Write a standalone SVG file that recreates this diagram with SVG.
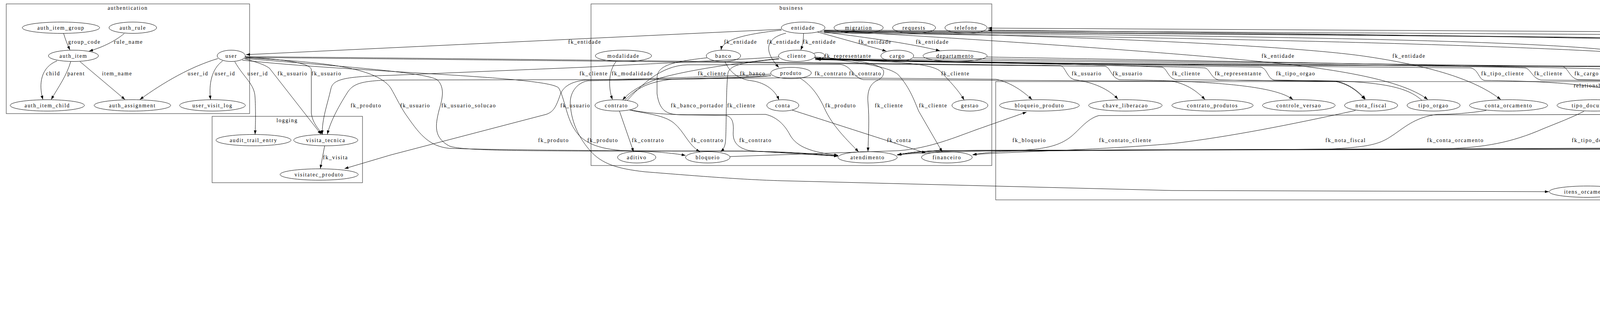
<svg xmlns="http://www.w3.org/2000/svg" width="5826" height="853" viewBox="0 0 5826 853">
<defs>
<marker id="a" viewBox="0 0 10 7" refX="10" refY="3.5" markerWidth="10" markerHeight="7" markerUnits="userSpaceOnUse" orient="auto"><path d="M0,0 L10,3.5 L0,7z" fill="#000"/></marker>
<style>
text{font-family:"Liberation Serif","Times New Roman",serif;font-size:14px;letter-spacing:1.7px;text-anchor:middle;fill:#000}
.cl rect{fill:none;stroke:#444;stroke-width:1.2}
.nd ellipse{fill:none;stroke:#000;stroke-width:1}
#edges path{fill:none;stroke:#000;stroke-width:1;marker-end:url(#a)}
</style>
</defs>
<rect width="5826" height="853" fill="#fff"/>
<g id="clusters" class="cl">
<g id="c_authentication"><rect x="16" y="10" width="623" height="281"/><text x="327" y="25">authentication</text></g>
<g id="c_logging"><rect x="543" y="298" width="385" height="170"/><text x="735" y="313">logging</text></g>
<g id="c_business"><rect x="1513" y="10" width="1026" height="414"/><text x="2026" y="25">business</text></g>
<g id="c_relationship"><rect x="2549" y="209" width="3047" height="303"/><text x="4072" y="224">relationship</text></g>
</g>
<g id="edges">
<g><path d="M163,86 C167,100 172,113 179,128"/><text x="216" y="112">group_code</text></g>
<g><path d="M318,86 C296,104 266,120 228,131"/><text x="329" y="112">rule_name</text></g>
<g><path d="M146,156 C105,172 98,215 110,255"/><text x="136" y="193">child</text></g>
<g><path d="M181,158 C170,195 150,222 131,255"/><text x="195" y="193">parent</text></g>
<g><path d="M205,158 L320,255"/><text x="300" y="193">item_name</text></g>
<g><path d="M558,150 C490,170 420,210 358,255"/><text x="507" y="193">user_id</text></g>
<g><path d="M570,156 C542,176 534,215 539,255"/><text x="576" y="193">user_id</text></g>
<g><path d="M601,158 C625,200 652,215 653,250 C655,290 654,320 653,344"/><text x="660" y="193">user_id</text></g>
<g><path d="M625,150 C660,160 680,167 690,175 L822,344"/><text x="749" y="193">fk_usuario</text></g>
<g><path d="M628,146 C720,152 793,160 797,178 L797,290 C800,315 815,330 826,344"/><text x="836" y="193">fk_usuario</text></g>
<g><path d="M831,374 L820,432"/><text x="859" y="408">fk_visita</text></g>
<g><path d="M1973,190 C1800,198 1600,203 1500,205 C1465,208 1445,220 1436,238 C1425,268 1420,286 1398,293 L1000,397 L882,432"/><text x="1417" y="364">fk_produto</text></g>
<g><path d="M1994,146 C1800,158 1600,166 1500,172 L1000,193 C880,196 852,203 847,228 C838,268 824,305 825,344"/><text x="1520" y="193">fk_cliente</text></g>
<g><path d="M1973,194 C1900,202 1700,204 1500,204 L1000,205 C925,207 905,214 890,236 C862,280 845,315 838,344"/><text x="937" y="275">fk_produto</text></g>
<g><path d="M2000,75 L630,140"/><text x="1497" y="112">fk_entidade</text></g>
<g><path d="M2001,77 C1930,85 1850,97 1846,128"/><text x="1896" y="112">fk_entidade</text></g>
<g><path d="M2012,85 C1962,97 1952,128 1994,173"/><text x="2006" y="112">fk_entidade</text></g>
<g><path d="M2057,86 C2057,100 2055,115 2050,128"/><text x="2098" y="112">fk_entidade</text></g>
<g><path d="M2093,82 L2269,131"/><text x="2240" y="112">fk_entidade</text></g>
<g><path d="M2100,81 C2250,100 2330,112 2406,130"/><text x="2387" y="112">fk_entidade</text></g>
<g><path d="M2108,78 C2500,100 3000,134 3250,160 C3500,185 3610,220 3655,255"/><text x="3272" y="148">fk_entidade</text></g>
<g><path d="M2109,80 C2700,90 3300,115 3500,145 C3700,175 3790,215 3842,255"/><text x="3607" y="148">fk_entidade</text></g>
<g><path d="M2110,82 C3000,90 3900,100 4133,130 C4220,145 4265,170 4278,200 C4283,220 4282,240 4280,255"/><text x="4264" y="148">fk_entidade</text></g>
<g><path d="M2110,84 C3200,98 4200,120 4400,158 C4480,172 4560,205 4652,255"/><text x="4480" y="148">fk_entidade</text></g>
<g><path d="M2110,80 C3000,88 4500,95 4760,110 C4900,120 4955,140 4958,172 C4960,205 4935,235 4908,255"/><text x="5002" y="148">fk_entidade</text></g>
<g><path d="M2110,79 C3500,88 4800,100 5000,117 C5100,130 5170,160 5230,195 C5270,220 5300,240 5317,255"/><text x="5195" y="148">fk_entidade</text></g>
<g><path d="M2110,77 C3500,84 4900,92 5000,97 C5150,107 5280,130 5350,165 C5420,200 5460,230 5487,255"/><text x="5368" y="148">fk_entidade</text></g>
<g><path d="M5507,256 C5508,190 5495,130 5450,113 C5380,95 5200,88 5000,86 L2529,72"/><text x="5545" y="148">fk_tipo_telefone</text></g>
<g><path d="M2083,137 C2098,131 2112,137 2111,143 C2110,149 2100,152 2089,150"/><text x="2171" y="148">fk_representante</text></g>
<g><path d="M1577,158 C1560,178 1555,220 1568,255"/><text x="1619" y="193">fk_modalidade</text></g>
<g><path d="M1994,150 C1880,162 1760,180 1690,200 C1645,215 1612,235 1594,256"/><text x="1823" y="193">fk_cliente</text></g>
<g><path d="M1600,257 C1630,225 1660,210 1720,203 C1900,200 2050,199 2100,199 L2550,203 C2590,212 2620,235 2642,255"/><text x="2127" y="193">fk_contrato</text></g>
<g><path d="M1605,258 C1640,220 1690,168 1760,166 L2150,165 C2180,167 2185,200 2210,204 L3000,208 C3040,215 3065,235 3085,255"/><text x="2215" y="193">fk_contrato</text></g>
<g><path d="M1856,158 C1868,185 1890,203 1925,207 C1960,212 1985,232 1994,256"/><text x="1927" y="193">fk_banco</text></g>
<g><path d="M1810,148 C1720,158 1682,168 1682,200 L1682,240 C1688,282 1705,293 1740,294 L1860,296 C1878,302 1878,320 1877,340 C1876,365 1890,380 1920,386 C2000,392 2080,396 2145,400"/><text x="1785" y="275">fk_banco_portador</text></g>
<g><path d="M1995,151 C1900,160 1872,166 1864,185 C1858,220 1860,340 1857,365 C1855,378 1850,384 1845,389"/><text x="1898" y="275">fk_cliente</text></g>
<g><path d="M1586,285 L1622,389"/><text x="1659" y="364">fk_contrato</text></g>
<g><path d="M1612,282 C1660,292 1700,295 1725,315 C1752,337 1762,372 1792,389"/><text x="1811" y="364">fk_contrato</text></g>
<g><path d="M1616,282 C1660,290 1700,293 1760,294 L1960,293 C1990,300 2010,322 2022,345 C2040,378 2080,390 2146,398"/><text x="1934" y="364">fk_contrato</text></g>
<g><path d="M2085,148 C2200,158 2280,172 2300,192 C2330,225 2342,262 2352,285 L2412,389"/><text x="2389" y="275">fk_cliente</text></g>
<g><path d="M2086,146 C2180,152 2258,162 2262,182 C2264,198 2250,204 2242,208 C2225,218 2220,238 2222,262 C2226,305 2223,350 2222,388"/><text x="2276" y="275">fk_cliente</text></g>
<g><path d="M2087,152 C2300,156 2385,163 2408,183 C2428,205 2455,232 2468,256"/><text x="2446" y="193">fk_cliente</text></g>
<g><path d="M2048,200 C2080,220 2098,250 2110,276 C2130,322 2170,360 2198,389"/><text x="2152" y="275">fk_produto</text></g>
<g><path d="M2028,282 L2370,392"/><text x="2302" y="364">fk_conta</text></g>
<g><path d="M628,148 C800,158 960,168 1000,225 C1015,250 1025,275 1045,302 C1075,345 1100,375 1150,380 C1300,385 1700,387 1900,387 C2000,388 2080,393 2145,399"/><text x="1063" y="275">fk_usuario</text></g>
<g><path d="M627,150 C850,168 1095,185 1120,205 C1140,225 1132,255 1124,282 C1114,322 1110,352 1150,374 C1180,385 1300,386 1500,387 L1900,387 C2000,389 2080,394 2145,400"/><text x="1200" y="275">fk_usuario_solucao</text></g>
<g><path d="M620,154 C900,185 1400,195 1430,225 C1445,250 1450,300 1470,330 C1490,365 1530,382 1600,386 C1680,388 1720,392 1755,398"/><text x="1473" y="275">fk_usuario</text></g>
<g><path d="M1869,401 L2300,386 C2380,380 2450,350 2500,332 L2628,287"/><text x="2635" y="364">fk_bloqueio</text></g>
<g><path d="M4410,284 C4380,291 4340,293 4300,293 L2813,296 C2780,305 2760,338 2735,355 C2710,372 2680,382 2600,386 C2500,387 2400,389 2297,396"/><text x="2881" y="364">fk_contato_cliente</text></g>
<g><path d="M3470,283 C3300,320 3150,350 3000,368 C2800,385 2600,388 2490,396"/><text x="3445" y="364">fk_nota_fiscal</text></g>
<g><path d="M3805,283 C3760,290 3720,293 3680,293 C3620,300 3592,330 3560,350 C3530,370 3500,377 3400,382 L2600,387 C2550,388 2510,392 2490,397"/><text x="3726" y="364">fk_conta_orcamento</text></g>
<g><path d="M4055,285 C4030,298 4000,310 3950,330 C3870,365 3800,378 3700,381 L2400,386 C2350,388 2320,392 2298,397"/><text x="4093" y="364">fk_tipo_documento</text></g>
<g><path d="M4618,284 C4580,291 4540,293 4500,293 C4420,300 4360,320 4330,333 C4250,370 4200,378 4100,381 L2400,386 C2350,388 2320,392 2298,397"/><text x="4466" y="364">fk_tipo_atendimento</text></g>
<g><path d="M4840,284 C4780,291 4700,293 4670,293 C4620,300 4612,320 4600,335 C4580,368 4550,376 4500,378 L2400,386 C2350,388 2320,392 2298,397"/><text x="4717" y="364">fk_tipo_ocorrencia</text></g>
<g><path d="M2296,397 C2330,390 2400,386 2500,385 L4500,382 C4700,378 4800,374 4850,365 C4950,345 5040,320 5090,286"/><text x="5109" y="364">fk_atendimento</text></g>
<g><path d="M5285,282 C5240,300 5213,340 5213,388"/><text x="5319" y="364">fk_tipo_documento</text></g>
<g><path d="M2087,150 C2200,160 3000,165 4500,173 L5000,197 L5597,207 C5640,220 5632,260 5631,300 C5630,350 5622,372 5597,377 C5500,382 5400,385 5299,392"/><text x="5666" y="275">fk_cliente</text></g>
<g><path d="M2086,148 C2200,162 3000,168 4500,170 C5000,168 5300,158 5400,160 C5650,175 5745,215 5747,255 C5750,300 5690,350 5600,382 L5567,393"/><text x="5783" y="275">fk_cliente</text></g>
<g><path d="M4530,281 C4555,290 4575,293 4610,293 L5388,297 C5420,310 5450,350 5465,388"/><text x="5528" y="364">fk_contato_cliente</text></g>
<g><path d="M5405,416 C5300,430 5100,446 5000,453 L4500,480 L4161,489"/><text x="5288" y="452">fk_orcamento</text></g>
<g><path d="M1974,194 C1800,202 1600,205 1505,207 C1475,212 1458,240 1460,267 C1463,320 1488,360 1510,385 C1540,420 1580,432 1650,440 C1800,452 1900,460 2000,463 L3000,488 L3965,491"/><text x="1543" y="364">fk_produto</text></g>
<g><path d="M628,145 C1200,150 2200,162 2715,168 C2728,172 2730,198 2750,204 C2810,212 2845,235 2862,254"/><text x="2782" y="193">fk_usuario</text></g>
<g><path d="M628,147 C1200,153 2300,165 2830,170 C2843,174 2845,198 2865,204 C3150,208 3270,225 3310,255"/><text x="2887" y="193">fk_usuario</text></g>
<g><path d="M2087,151 C2500,160 2900,168 2975,172 C2988,176 2990,200 3010,204 L3420,208 C3455,215 3478,235 3496,254"/><text x="3037" y="193">fk_cliente</text></g>
<g><path d="M2087,153 C2600,162 3000,170 3085,174 C3098,178 3100,200 3120,205 L3420,209 C3455,216 3478,236 3494,255"/><text x="3170" y="193">fk_representante</text></g>
<g><path d="M3640,257 C3610,230 3560,210 3400,207 L3262,205 C3245,202 3245,176 3228,172 C2800,165 2300,155 2091,150"/><text x="3317" y="193">fk_tipo_orgao</text></g>
<g><path d="M4225,259 C4150,222 4000,208 3800,206 C3785,203 3785,178 3765,174 C3000,168 2400,156 2091,152"/><text x="3847" y="193">fk_tipo_cliente</text></g>
<g><path d="M2087,150 C3000,160 3800,170 3905,174 C3920,178 3922,200 3945,205 L4300,208 C4380,215 4420,235 4443,255"/><text x="3964" y="193">fk_cliente</text></g>
<g><path d="M2338,148 C3000,158 3900,168 4000,170 C4015,174 4018,200 4040,204 L4300,208 C4380,216 4420,236 4441,255"/><text x="4062" y="193">fk_cargo</text></g>
<g><path d="M2526,146 C3200,158 4000,172 4300,182 C4345,185 4352,200 4365,215 C4390,238 4420,247 4444,255"/><text x="4394" y="193">fk_departamento</text></g>
<g><path d="M4478,256 C4520,225 4560,210 4610,203 C4720,185 4792,175 4792,158 C4792,140 4760,128 4700,120 C4500,100 3500,88 2529,77"/><text x="4867" y="148">fk_contato_cliente</text></g>
</g>
<g id="nodes" class="nd">
<g id="n_auth_item_group"><ellipse cx="156" cy="71" rx="99" ry="14.5"/><text x="156" y="75.5">auth_item_group</text></g>
<g id="n_auth_rule"><ellipse cx="340" cy="71" rx="61" ry="14.5"/><text x="340" y="75.5">auth_rule</text></g>
<g id="n_auth_item"><ellipse cx="188" cy="143" rx="64" ry="14.5"/><text x="188" y="147.5">auth_item</text></g>
<g id="n_user"><ellipse cx="592" cy="143" rx="36" ry="14.5"/><text x="592" y="147.5">user</text></g>
<g id="n_auth_item_child"><ellipse cx="121" cy="270" rx="95" ry="14.5"/><text x="121" y="274.5">auth_item_child</text></g>
<g id="n_auth_assignment"><ellipse cx="339" cy="270" rx="98" ry="14.5"/><text x="339" y="274.5">auth_assignment</text></g>
<g id="n_user_visit_log"><ellipse cx="544" cy="270" rx="84" ry="14.5"/><text x="544" y="274.5">user_visit_log</text></g>
<g id="n_audit_trail_entry"><ellipse cx="649" cy="359" rx="96" ry="14.5"/><text x="649" y="363.5">audit_trail_entry</text></g>
<g id="n_visita_tecnica"><ellipse cx="834" cy="359" rx="82" ry="14.5"/><text x="834" y="363.5">visita_tecnica</text></g>
<g id="n_visitatec_produto"><ellipse cx="817" cy="447" rx="100" ry="14.5"/><text x="817" y="451.5">visitatec_produto</text></g>
<g id="n_entidade"><ellipse cx="2056" cy="71" rx="56" ry="14.5"/><text x="2056" y="75.5">entidade</text></g>
<g id="n_migration"><ellipse cx="2198" cy="71" rx="63" ry="14.5"/><text x="2198" y="75.5">migration</text></g>
<g id="n_requests"><ellipse cx="2340" cy="71" rx="55" ry="14.5"/><text x="2340" y="75.5">requests</text></g>
<g id="n_telefone"><ellipse cx="2473" cy="71" rx="54" ry="14.5"/><text x="2473" y="75.5">telefone</text></g>
<g id="n_modalidade"><ellipse cx="1596" cy="143" rx="72" ry="14.5"/><text x="1596" y="147.5">modalidade</text></g>
<g id="n_banco"><ellipse cx="1852" cy="143" rx="44" ry="14.5"/><text x="1852" y="147.5">banco</text></g>
<g id="n_cliente"><ellipse cx="2040" cy="143" rx="47" ry="14.5"/><text x="2040" y="147.5">cliente</text></g>
<g id="n_cargo"><ellipse cx="2297" cy="143" rx="42" ry="14.5"/><text x="2297" y="147.5">cargo</text></g>
<g id="n_departamento"><ellipse cx="2445" cy="143" rx="82" ry="14.5"/><text x="2445" y="147.5">departamento</text></g>
<g id="n_produto"><ellipse cx="2025" cy="187" rx="52" ry="14.5"/><text x="2025" y="191.5">produto</text></g>
<g id="n_contrato"><ellipse cx="1578" cy="270" rx="55" ry="14.5"/><text x="1578" y="274.5">contrato</text></g>
<g id="n_conta"><ellipse cx="2004" cy="270" rx="41" ry="14.5"/><text x="2004" y="274.5">conta</text></g>
<g id="n_gestao"><ellipse cx="2483" cy="270" rx="46" ry="14.5"/><text x="2483" y="274.5">gestao</text></g>
<g id="n_aditivo"><ellipse cx="1630" cy="403" rx="49" ry="14.5"/><text x="1630" y="407.5">aditivo</text></g>
<g id="n_bloqueio"><ellipse cx="1812" cy="403" rx="57" ry="14.5"/><text x="1812" y="407.5">bloqueio</text></g>
<g id="n_atendimento"><ellipse cx="2221" cy="403" rx="76" ry="14.5"/><text x="2221" y="407.5">atendimento</text></g>
<g id="n_financeiro"><ellipse cx="2424" cy="403" rx="65" ry="14.5"/><text x="2424" y="407.5">financeiro</text></g>
<g id="n_bloqueio_produto"><ellipse cx="2661" cy="270" rx="102" ry="14.5"/><text x="2661" y="274.5">bloqueio_produto</text></g>
<g id="n_chave_liberacao"><ellipse cx="2881" cy="270" rx="94" ry="14.5"/><text x="2881" y="274.5">chave_liberacao</text></g>
<g id="n_contrato_produtos"><ellipse cx="3104" cy="270" rx="104" ry="14.5"/><text x="3104" y="274.5">contrato_produtos</text></g>
<g id="n_controle_versao"><ellipse cx="3325" cy="270" rx="93" ry="14.5"/><text x="3325" y="274.5">controle_versao</text></g>
<g id="n_nota_fiscal"><ellipse cx="3510" cy="270" rx="68" ry="14.5"/><text x="3510" y="274.5">nota_fiscal</text></g>
<g id="n_tipo_orgao"><ellipse cx="3670" cy="270" rx="68" ry="14.5"/><text x="3670" y="274.5">tipo_orgao</text></g>
<g id="n_conta_orcamento"><ellipse cx="3862" cy="270" rx="100" ry="14.5"/><text x="3862" y="274.5">conta_orcamento</text></g>
<g id="n_tipo_documento"><ellipse cx="4081" cy="270" rx="95" ry="14.5"/><text x="4081" y="274.5">tipo_documento</text></g>
<g id="n_tipo_cliente"><ellipse cx="4273" cy="270" rx="73" ry="14.5"/><text x="4273" y="274.5">tipo_cliente</text></g>
<g id="n_contato_cliente"><ellipse cx="4460" cy="270" rx="89" ry="14.5"/><text x="4460" y="274.5">contato_cliente</text></g>
<g id="n_tipo_atendimento"><ellipse cx="4675" cy="270" rx="101" ry="14.5"/><text x="4675" y="274.5">tipo_atendimento</text></g>
<g id="n_tipo_ocorrencia"><ellipse cx="4892" cy="270" rx="92" ry="14.5"/><text x="4892" y="274.5">tipo_ocorrencia</text></g>
<g id="n_atendimento_anexos"><ellipse cx="5124" cy="270" rx="116" ry="14.5"/><text x="5124" y="274.5">atendimento_anexos</text></g>
<g id="n_tipo_anexo"><ellipse cx="5333" cy="270" rx="69" ry="14.5"/><text x="5333" y="274.5">tipo_anexo</text></g>
<g id="n_tipo_telefone"><ellipse cx="5505" cy="270" rx="79" ry="14.5"/><text x="5505" y="274.5">tipo_telefone</text></g>
<g id="n_anexos_documentos"><ellipse cx="5215" cy="403" rx="115" ry="14.5"/><text x="5215" y="407.5">anexos_documentos</text></g>
<g id="n_orcamento_proposta"><ellipse cx="5469" cy="403" rx="116" ry="14.5"/><text x="5469" y="407.5">orcamento_proposta</text></g>
<g id="n_itens_orcamento"><ellipse cx="4063" cy="491" rx="97" ry="14.5"/><text x="4063" y="495.5">itens_orcamento</text></g>
</g>
</svg>
